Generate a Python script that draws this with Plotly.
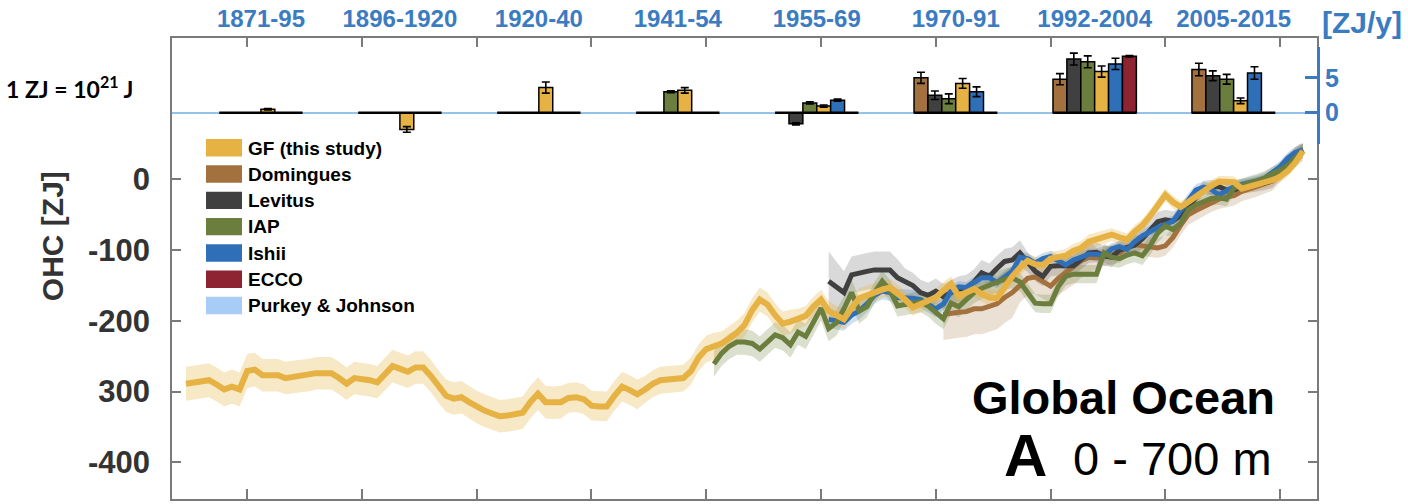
import plotly.graph_objects as go

# ---------------- OHC time series (0-700 m), ZJ ----------------
years_gf = list(range(1871, 2018))
ohc_gf = [
    -289, -287, -285, -284, -290, -297, -293, -297, -271, -269,
    -277, -277, -277, -281, -279, -278, -277, -274, -274, -274,
    -281, -289, -281, -282, -284, -287, -276, -264, -268, -272,
    -266, -266, -278, -293, -306, -310, -308, -315, -322, -327,
    -331, -335, -334, -332, -330, -315, -303, -315, -316, -315,
    -309, -308, -311, -320, -321, -321, -306, -293, -298, -304,
    -297, -289, -284, -283, -283, -281, -271, -252, -240, -236,
    -232, -225, -217, -206, -185, -170, -177, -192, -204, -201,
    -197, -193, -180, -170, -186, -193, -198, -182, -168, -164,
    -159, -156, -153, -161, -170, -181, -176, -172, -167, -157,
    -148, -165, -160, -155, -162, -167, -168, -151, -137, -125,
    -115, -120, -121, -112, -111, -108, -101, -97, -88, -85,
    -82, -78, -82, -85, -74, -65, -52, -37, -22, -32,
    -39, -32, -24, -15, -9, -3, -3, -4, -13, -10,
    -7, -5, -1, 4, 12, 24, 40,
]
unc_gf = [
    24, 24, 24, 24, 24, 24, 24, 24, 24, 24,
    23, 23, 23, 23, 23, 23, 23, 23, 23, 23,
    23, 23, 23, 23, 23, 23, 23, 23, 23, 23,
    23, 23, 23, 23, 23, 23, 23, 23, 23, 23,
    23, 23, 23, 23, 23, 23, 23, 23, 23, 23,
    21, 21, 21, 21, 21, 21, 21, 21, 21, 21,
    19, 19, 19, 19, 19, 19, 19, 19, 19, 19,
    17, 17, 17, 17, 17, 17, 17, 17, 17, 17,
    14, 14, 14, 14, 14, 14, 14, 14, 14, 14,
    12, 12, 12, 12, 12, 12, 12, 12, 12, 12,
    11, 11, 11, 11, 11, 11, 11, 11, 11, 11,
    10, 10, 10, 10, 10, 10, 10, 10, 10, 10,
    9, 9, 9, 9, 9, 9, 9, 9, 9, 9,
    8, 8, 8, 8, 8, 8, 8, 8, 8, 8,
    8, 8, 8, 8, 8, 8, 8,
]

years_iap = list(range(1940, 2018))
ohc_iap = [
    -261, -246, -236, -230, -230, -232, -240, -230, -220, -224,
    -234, -216, -222, -202, -182, -211, -203, -183, -160, -186,
    -180, -160, -144, -157, -179, -177, -175, -173, -179, -189,
    -197, -175, -180, -170, -160, -154, -150, -146, -141, -139,
    -145, -160, -175, -176, -176, -152, -137, -134, -134, -134,
    -134, -104, -110, -112, -107, -104, -108, -94, -76, -66,
    -71, -62, -43, -36, -31, -27, -26, -28, -12, -8,
    -5, -2, 2, 8, 13, 20, 30, 41,
]
unc_iap = [
    18, 18, 18, 18, 18, 18, 18, 18, 18, 18,
    18, 18, 18, 18, 18, 18, 18, 18, 18, 18,
    15, 15, 15, 15, 15, 15, 15, 15, 15, 15,
    15, 15, 15, 15, 15, 15, 15, 15, 15, 15,
    13, 13, 13, 13, 13, 13, 13, 13, 13, 13,
    13, 13, 13, 13, 13, 13, 13, 13, 13, 13,
    10, 10, 10, 10, 10, 10, 10, 10, 10, 10,
    10, 10, 10, 10, 10, 10, 10, 10,
]

years_lev = list(range(1955, 2018))
ohc_lev = [
    -144, -152, -160, -135, -132, -130, -128, -128, -128, -139,
    -144, -150, -160, -164, -158, -166, -160, -155, -153, -145,
    -132, -137, -126, -116, -114, -104, -117, -130, -137, -123,
    -122, -122, -122, -113, -104, -103, -108, -110, -100, -96,
    -93, -84, -73, -60, -57, -59, -51, -42, -25, -12,
    -11, -10, -15, -15, -10, -9, -7, -5, -2, 10,
    24, 35, 42,
]
unc_lev = [
    42, 36, 30, 26, 26, 26, 26, 26, 26, 26,
    18, 18, 18, 18, 18, 18, 18, 18, 18, 18,
    18, 18, 18, 18, 18, 18, 14, 14, 14, 14,
    14, 14, 14, 14, 14, 14, 14, 14, 14, 14,
    14, 14, 14, 14, 14, 14, 10, 10, 10, 10,
    10, 10, 10, 10, 10, 10, 10, 10, 10, 10,
    10, 10, 10,
]

years_ish = list(range(1955, 2018))
ohc_ish = [
    -198, -200, -202, -192, -186, -176, -164, -158, -160, -167,
    -167, -168, -170, -176, -183, -176, -158, -152, -153, -146,
    -139, -139, -146, -138, -130, -110, -112, -118, -112, -109,
    -115, -121, -114, -110, -106, -106, -108, -98, -95, -99,
    -88, -80, -73, -68, -64, -59, -44, -28, -15, -11,
    -14, -22, -16, -10, -7, -5, -2, 2, 10, 18,
    30, 38, 42,
]
unc_ish = [
    12, 12, 12, 12, 12, 12, 12, 12, 12, 12,
    12, 12, 12, 12, 12, 8, 8, 8, 8, 8,
    8, 8, 8, 8, 8, 8, 8, 8, 8, 8,
    8, 8, 8, 8, 8, 8, 8, 8, 8, 8,
    8, 8, 8, 8, 8, 8, 8, 8, 8, 8,
    8, 8, 8, 8, 8, 8, 8, 8, 8, 8,
    8, 8, 8,
]

years_dom = list(range(1970, 2018))
ohc_dom = [
    -191, -189, -188, -187, -183, -183, -180, -176, -167, -160,
    -150, -140, -138, -144, -151, -140, -132, -125, -115, -110,
    -111, -109, -106, -104, -97, -92, -94, -96, -97, -94,
    -82, -65, -50, -44, -38, -32, -28, -25, -23, -17,
    -14, -10, -6, -2, 10, 22, 32, 40,
]
unc_dom = [
    36, 36, 36, 36, 36, 36, 36, 36, 36, 36,
    24, 24, 24, 24, 24, 24, 24, 24, 24, 24,
    14, 14, 14, 14, 14, 14, 14, 14, 14, 14,
    14, 14, 14, 14, 14, 14, 14, 14, 14, 14,
    14, 14, 14, 14, 14, 14, 14, 14,
]

# ---------------- Heating rates per period, ZJ/y ----------------
periods = ["1871-95", "1896-1920", "1920-40", "1941-54",
           "1955-69", "1970-91", "1992-2004", "2005-2015"]
period_pos = [1, 2, 3, 4, 5, 6, 7, 8]

rate_dom = [None, None, None, None, None, 5.0, 4.8, 6.2]
err_dom = [0, 0, 0, 0, 0, 0.8, 0.8, 0.9]
rate_lev = [None, None, None, None, -1.6, 2.5, 7.7, 5.3]
err_lev = [0, 0, 0, 0, 0.15, 0.6, 0.85, 0.7]
rate_iap = [None, None, None, 3.0, 1.4, 2.0, 7.3, 4.8]
err_iap = [0, 0, 0, 0.15, 0.15, 0.7, 0.85, 0.7]
rate_gf = [0.5, -2.4, 3.6, 3.2, 0.95, 4.2, 5.9, 1.7]
err_gf = [0.1, 0.4, 0.8, 0.4, 0.15, 0.7, 0.8, 0.4]
rate_ish = [None, None, None, None, 1.8, 3.0, 7.0, 5.7]
err_ish = [0, 0, 0, 0, 0.15, 0.7, 0.8, 0.9]
rate_ecco = [None, None, None, None, None, None, 8.1, None]
err_ecco = [0, 0, 0, 0, 0, 0, 0.1, 0]

# ---------------- Styling ----------------
names = ["GF (this study)", "Domingues", "Levitus", "IAP", "Ishii", "ECCO", "Purkey & Johnson"]
colors = {
    "GF (this study)": "#E6B243",
    "Domingues": "#A2713D",
    "Levitus": "#404040",
    "IAP": "#6B7E3D",
    "Ishii": "#2F6FB8",
    "ECCO": "#8E2332",
    "Purkey & Johnson": "#A7CCF5",
}
bands = {
    "GF (this study)": "rgba(230,178,67,0.30)",
    "Domingues": "rgba(162,113,61,0.22)",
    "Levitus": "rgba(64,64,64,0.20)",
    "IAP": "rgba(107,126,61,0.25)",
    "Ishii": "rgba(47,111,184,0.22)",
}
BLUE = "#3A7BC2"
FRAME = "#7a7a7a"
TXT = "#333333"
FONT = "Liberation Sans"

# plot-area pixel geometry (figure is 1408 x 504)
L, R, T, B = 172, 1317, 36, 499
W, H = R - L, B - T


def px(x):
    return (x - L) / W


def py(y):
    return (B - y) / H


fig = go.Figure()

series = [
    ("Domingues", years_dom, ohc_dom, unc_dom, 5),
    ("Levitus", years_lev, ohc_lev, unc_lev, 5),
    ("Ishii", years_ish, ohc_ish, unc_ish, 5),
    ("IAP", years_iap, ohc_iap, unc_iap, 5),
    ("GF (this study)", years_gf, ohc_gf, unc_gf, 6),
]

# uncertainty envelopes
for name, yrs, vals, unc, _ in series:
    lo = [v - u for v, u in zip(vals, unc)]
    hi = [v + u for v, u in zip(vals, unc)]
    fig.add_trace(go.Scatter(x=yrs, y=lo, mode="lines", line=dict(width=0),
                             hoverinfo="skip", showlegend=False))
    fig.add_trace(go.Scatter(x=yrs, y=hi, mode="lines", line=dict(width=0),
                             fill="tonexty", fillcolor=bands[name],
                             hoverinfo="skip", showlegend=False))

# central estimates
for name, yrs, vals, unc, lw in series:
    fig.add_trace(go.Scatter(x=yrs, y=vals, mode="lines", name=name,
                             line=dict(color=colors[name], width=lw),
                             showlegend=False))

# heating-rate bars
bar_sets = [
    ("Domingues", rate_dom, err_dom),
    ("Levitus", rate_lev, err_lev),
    ("IAP", rate_iap, err_iap),
    ("GF (this study)", rate_gf, err_gf),
    ("Ishii", rate_ish, err_ish),
    ("ECCO", rate_ecco, err_ecco),
]
for name, vals, errs in bar_sets:
    fig.add_trace(go.Bar(
        x=period_pos, y=vals, name=name, xaxis="x2", yaxis="y2",
        marker=dict(color=colors[name], line=dict(color="black", width=1.5)),
        error_y=dict(type="data", array=errs, color="black", thickness=1.6, width=4),
        showlegend=False,
    ))

# baseline segment under each period group
seg_x, seg_y = [], []
for p in period_pos:
    seg_x += [p - 0.3, p + 0.3, None]
    seg_y += [0, 0, None]
fig.add_trace(go.Scatter(x=seg_x, y=seg_y, mode="lines", xaxis="x2", yaxis="y2",
                         line=dict(color="black", width=2.5), hoverinfo="skip",
                         showlegend=False))

# legend drawn as swatches + labels
shapes = []
annotations = []
for i, name in enumerate(names):
    top = 137.5 + 26.4 * i
    shapes.append(dict(type="rect", xref="paper", yref="paper",
                       x0=px(206), x1=px(242), y0=py(top + 17.5), y1=py(top),
                       fillcolor=colors[name], line=dict(width=0), layer="above"))
    annotations.append(dict(xref="paper", yref="paper", x=px(246), y=py(top + 9),
                            xanchor="left", yanchor="middle", showarrow=False,
                            text=name, font=dict(family=FONT, size=19, color="black",
                                                 weight="bold")))

annotations += [
    dict(xref="paper", yref="paper", x=px(52), y=py(235), text="OHC [ZJ]",
         textangle=-90, showarrow=False, xanchor="center", yanchor="middle",
         font=dict(family=FONT, size=30, color=TXT, weight="bold")),
    dict(xref="paper", yref="paper", x=px(4), y=py(86), xanchor="left", yanchor="middle",
         text="1 ZJ = 10<sup>21</sup> J", showarrow=False,
         font=dict(family="Lato", size=23, color="black", weight="bold")),
    dict(xref="paper", yref="paper", x=px(1362), y=py(20), text="[ZJ/y]",
         showarrow=False, xanchor="center", yanchor="middle",
         font=dict(family=FONT, size=30, color=BLUE, weight="bold")),
    dict(xref="paper", yref="paper", x=px(1277), y=py(397), text="Global Ocean",
         showarrow=False, xanchor="right", yanchor="middle",
         font=dict(family=FONT, size=47, color="black", weight="bold")),
    dict(xref="paper", yref="paper", x=px(1274), y=py(458), text="0 - 700 m",
         showarrow=False, xanchor="right", yanchor="middle",
         font=dict(family=FONT, size=47, color="black")),
    dict(xref="paper", yref="paper", x=px(1049), y=py(455), text="A",
         showarrow=False, xanchor="right", yanchor="middle",
         font=dict(family=FONT, size=60, color="black", weight="bold")),
]

fig.update_layout(
    width=1408, height=504,
    margin=dict(l=L, r=1408 - R, t=T, b=504 - B),
    paper_bgcolor="white", plot_bgcolor="white",
    barmode="group", bargap=0.4, bargroupgap=0,
    showlegend=False,
    shapes=shapes, annotations=annotations,
    xaxis=dict(
        domain=[0, 1], range=[1869.17, 2018.83],
        tickvals=[1879, 1894, 1909, 1924, 1939, 1954, 1969, 1984, 1999, 2014],
        showticklabels=False, ticks="inside", ticklen=10, tickwidth=1.5,
        tickcolor=FRAME, showline=True, linecolor=FRAME, linewidth=1.5,
        mirror="ticks", showgrid=False, zeroline=False,
    ),
    yaxis=dict(
        domain=[0, 1], range=[-452, 200],
        tickvals=[-400, -300, -200, -100, 0],
        ticktext=["-400", "300", "-200", "-100", "0"],
        tickfont=dict(family=FONT, size=31, color=TXT, weight="bold"),
        ticks="inside", ticklen=9, tickwidth=1.5, tickcolor=FRAME,
        ticklabelstandoff=14,
        minor=dict(tickmode="array", tickvals=[100], ticks="inside", ticklen=9,
                   tickwidth=1.5, tickcolor=FRAME, showgrid=False),
        showline=True, linecolor=FRAME, linewidth=1.5, mirror="ticks",
        showgrid=False, zeroline=False,
    ),
    xaxis2=dict(
        domain=[0, 1], range=[0.36, 8.6], anchor="free", position=1, side="top",
        tickvals=period_pos, ticktext=periods,
        tickfont=dict(family=FONT, size=24, color=BLUE, weight="bold"),
        ticklabelstandoff=6,
        ticks="", showline=False, showgrid=False, zeroline=False,
    ),
    yaxis2=dict(
        domain=[py(142), py(45)], range=[-4.43, 9.43], anchor="x2", side="right",
        tickvals=[0, 5], ticktext=["0", "5"],
        tickfont=dict(family=FONT, size=25, color=BLUE, weight="bold"),
        ticks="inside", ticklen=12, tickwidth=3, tickcolor=BLUE,
        showline=True, linecolor=BLUE, linewidth=3,
        showgrid=False, zeroline=True, zerolinecolor="#93C2EA", zerolinewidth=2,
    ),
)

fig.write_html("out.html")
